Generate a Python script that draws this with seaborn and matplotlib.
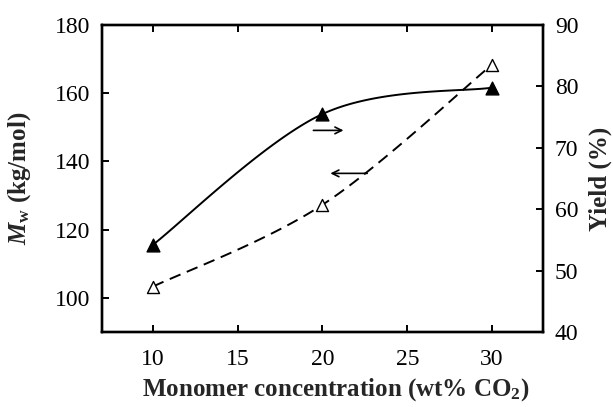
import numpy as np
import pandas as pd
import matplotlib
matplotlib.use("Agg")
import matplotlib.pyplot as plt
import seaborn as sns

# Data
conc = [10, 20, 30]                 # wt% CO2
mw = [103.3, 127.3, 168.4]          # kg/mol (left axis, open triangles, dashed)
yield_pct = [54.2, 75.5, 79.8]      # % (right axis, filled triangles, solid)

sns.set_theme(style="ticks")
plt.rcParams["font.family"] = ["Liberation Serif", "DejaVu Serif"]
plt.rcParams["mathtext.fontset"] = "custom"
plt.rcParams["mathtext.rm"] = "Liberation Serif"
plt.rcParams["mathtext.it"] = "Liberation Serif:italic"
plt.rcParams["mathtext.bf"] = "Liberation Serif:bold"
plt.rcParams["mathtext.bfit"] = "Liberation Serif:bold:italic"


def smooth_curve(x, y, n=60):
    """Catmull-Rom style Bezier smoothing through the given points."""
    pts = np.column_stack([x, y]).astype(float)
    out = []
    m = len(pts)
    for i in range(m - 1):
        p0 = pts[i - 1] if i > 0 else pts[i]
        p1 = pts[i]
        p2 = pts[i + 1]
        p3 = pts[i + 2] if i + 2 < m else pts[i + 1]
        c1 = p1 + (p2 - p0) / 6.0
        c2 = p2 - (p3 - p1) / 6.0
        t = np.linspace(0, 1, n)[:, None]
        seg = ((1 - t) ** 3) * p1 + 3 * ((1 - t) ** 2) * t * c1 + 3 * (1 - t) * t ** 2 * c2 + t ** 3 * p2
        out.append(seg if i == 0 else seg[1:])
    out = np.vstack(out)
    return pd.DataFrame({"x": out[:, 0], "y": out[:, 1]})


fig = plt.figure(figsize=(6.13, 4.07), dpi=100)
ax = fig.add_axes([0.1664, 0.1843, 0.7194, 0.7543])
ax2 = ax.twinx()

# Mw: dashed curve with open triangles
mw_curve = smooth_curve(conc, mw)
sns.lineplot(data=mw_curve, x="x", y="y", ax=ax, sort=False, estimator=None,
             color="black", lw=1.4, linestyle=(0, (6, 3.5)))
sns.scatterplot(x=conc, y=mw, ax=ax, marker="^", s=75, facecolor="white",
                edgecolor="black", linewidth=1.0, zorder=5)

# Yield: solid curve with filled triangles
y_curve = smooth_curve(conc, yield_pct)
sns.lineplot(data=y_curve, x="x", y="y", ax=ax2, sort=False, estimator=None,
             color="black", lw=1.4)
sns.scatterplot(x=conc, y=yield_pct, ax=ax2, marker="^", s=85, color="black",
                edgecolor="black", linewidth=1.0, zorder=5)

# Axis-indicating arrows
ax.annotate("", xy=(21.4, 149.1), xytext=(19.3, 149.1),
            arrowprops=dict(arrowstyle="->", color="black", lw=1.2))
ax.annotate("", xy=(20.3, 136.5), xytext=(22.8, 136.5),
            arrowprops=dict(arrowstyle="->", color="black", lw=1.2))

ax.set_xlim(7, 33)
ax.set_ylim(90, 180)
ax2.set_ylim(40, 90)
ax.set_xticks([10, 15, 20, 25, 30])
ax.set_yticks([100, 120, 140, 160, 180])
ax2.set_yticks([40, 50, 60, 70, 80, 90])

for a in (ax, ax2):
    for sp in a.spines.values():
        sp.set_visible(True)
        sp.set_linewidth(1.7)
        sp.set_color("black")
    a.tick_params(direction="in", length=5, width=1.4, colors="black",
                  labelsize=17, pad=8.5)
ax.tick_params(axis="x", top=True, pad=12.5)
ax.tick_params(axis="y", right=False)
ax2.tick_params(axis="y", left=False)

ax.set_xlabel(r"Monomer concentration (wt% CO$_\mathbf{2}$)",
              fontsize=18, fontweight="bold")
ax.set_ylabel(r"$\mathbfit{M}_\mathbf{w}$ (kg/mol)", fontsize=18,
              fontweight="bold")
ax2.set_ylabel("Yield (%)", fontsize=18, fontweight="bold")
ax.xaxis.set_label_coords(0.529, -0.189)
ax.yaxis.set_label_coords(-0.186, 0.5)
ax2.yaxis.set_label_coords(1.129, 0.5)
ax.yaxis.label.set_verticalalignment("center")
ax2.yaxis.label.set_verticalalignment("center")
ax.xaxis.label.set_verticalalignment("center")

fig.savefig("out.png", dpi=100)
